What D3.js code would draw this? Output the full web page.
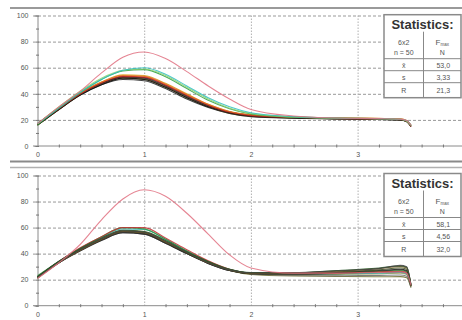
<!DOCTYPE html>
<html>
<head>
<meta charset="utf-8">
<script src="https://cdn.jsdelivr.net/npm/d3@7"></script>
<style>
  body { margin: 0; background: #fff; }
  svg { display: block; font-family: 'Liberation Sans', Arial, sans-serif; }
</style>
</head>
<body>
<div id="chart"></div>
<script>
// sample positions along the travel axis
const xs = [0, 0.2, 0.4, 0.6, 0.8, 1.0, 1.2, 1.4, 1.6, 1.8, 2.0, 2.4, 2.8, 3.2, 3.4, 3.46, 3.5];

const xTicks = [0, 1, 2, 3];
const xMinorTicks = [0.2, 0.4, 0.6, 0.8, 1.2, 1.4, 1.6, 1.8, 2.2, 2.4, 2.6, 2.8, 3.2, 3.4, 3.6, 3.8];
const yTicks = [0, 20, 40, 60, 80, 100];
const yMinorTicks = [10, 30, 50, 70, 90];

// upper panel curves
const topPink   = [17, 30, 42, 56, 68, 72, 67, 57, 46, 36, 28, 23, 21.5, 21, 20.6, 19.5, 16];
const topCyan   = [17, 29, 41, 51, 58, 60, 55, 46, 37, 30, 25.5, 22.5, 21.5, 21, 20.5, 19.5, 16];
const topGreen  = [16, 29, 41, 51, 57.5, 58.5, 53, 44, 35, 28.5, 24.5, 22, 21.3, 20.8, 20.3, 19, 15.5];
const topLime   = [17, 30, 42, 52, 58, 59, 54, 45, 36, 29, 25, 22.2, 21.4, 21, 20.6, 19.2, 16];
const topBlack1 = [16, 28, 39, 47, 52, 51, 45, 37, 30, 25.5, 23, 21.5, 21, 20.5, 20, 19, 15];
const topBlack2 = [17, 29, 40, 48, 53, 52, 46, 38, 31, 26, 23.5, 22, 21.2, 20.7, 20.3, 19.2, 15.5];
const topRed    = [17, 29, 40, 48.5, 53.5, 53, 47, 39, 31.5, 26, 23.5, 22, 21.2, 20.8, 20.4, 19, 15];
const topBrown  = [16, 28, 39.5, 48, 52.5, 51.5, 45.5, 37.5, 30.5, 25.5, 23, 21.7, 21, 20.6, 20.2, 19, 16];
const topOrange = [17, 29.5, 40.5, 49, 54, 53.5, 47.5, 39.5, 32, 26.5, 24, 22.3, 21.6, 21.2, 20.8, 19.5, 16];
const topDark   = [16.5, 28, 39, 47, 51, 50, 44, 36, 29.5, 25, 22.5, 21.3, 20.8, 20.3, 20, 18.5, 15];
const topMaroon = [17, 28.5, 40, 48, 53, 52.5, 46.5, 38.5, 31, 26, 23.5, 22, 21.3, 20.9, 20.5, 19, 15.5];
const topOlive  = [16, 28, 39, 47.5, 52, 51, 45, 37, 30, 25, 22.8, 21.5, 20.8, 20.4, 20, 18.8, 15];
const topYellow = [17, 29, 40.5, 49, 54.5, 54, 48, 40, 32, 26.5, 23.8, 22.2, 21.5, 21.1, 20.7, 19.3, 15.5];

// lower panel curves
const botPink      = [21, 33, 47, 66, 82, 89, 84, 71, 55, 39, 29, 25, 25, 25.5, 26, 25, 16];
const botBlack1    = [22, 33, 42, 50, 56, 55, 48, 40, 32.5, 27, 24.5, 24, 24.5, 25.5, 26, 25, 15];
const botBlack2    = [22, 34, 43, 51, 57, 56, 49, 41, 33.5, 27.5, 25, 24.5, 25.5, 27, 28, 27, 16];
const botGreen     = [23, 34, 44, 53, 60, 59, 51, 42, 34, 28, 25, 24.5, 25, 26, 27, 26, 15];
const botOlive     = [22, 33.5, 43, 51.5, 57.5, 56.5, 49, 40.5, 33, 27, 24, 22.8, 22.5, 22.2, 22.3, 21.5, 14];
const botBrown     = [21, 33, 42.5, 51, 57, 56, 49, 41, 33, 27.5, 25, 25, 26.5, 28.5, 30, 29, 16];
const botDarkGreen = [22, 34, 44, 52, 58, 57, 50, 41.5, 34, 28, 25.5, 25.5, 27, 29, 30.5, 29.5, 16];
const botCyan      = [22, 34, 44, 52.5, 59, 58.5, 51, 42, 34, 28, 25, 24.5, 24.5, 25, 25.5, 24.5, 15];
const botRed       = [22, 34, 44.5, 53, 60, 60, 52, 43, 34.5, 28, 25, 24.5, 25, 26, 26.5, 25.5, 15];
const botGray      = [21.5, 33, 43, 51, 56.5, 55.5, 48.5, 40, 32.5, 27, 24.5, 23.2, 23, 23.3, 23.6, 22.6, 14];
const botBlack3    = [22, 33.5, 43, 51, 57, 56, 49, 40.5, 33, 27.5, 25, 24.8, 26, 27.5, 29, 28, 15.5];
const botBlack4    = [22, 33, 42.5, 50.5, 56, 55, 48, 40, 32.5, 27, 24.6, 24.2, 25, 26.5, 27.5, 26.5, 15];
const botKhaki     = [22, 33.5, 43.5, 52, 58, 57, 50, 41, 33.5, 27.5, 24.8, 23.8, 24, 24.5, 25, 24, 14.5];
const botDark2     = [21.5, 33, 43, 51.5, 57.5, 56.5, 49.5, 41, 33, 27.5, 25.2, 25.2, 26.8, 28.5, 31, 30, 16];

// statistics tables
const topStats = { head: ['6x2', 'n = 50'], rows: [['x\u0304', '53,0'], ['s', '3,33'], ['R', '21,3']] };
const botStats = { head: ['6x2', 'n = 50'], rows: [['x\u0304', '58,1'], ['s', '4,56'], ['R', '32,0']] };

const topCurves = [
  [topOlive, '#6b6a2a'], [topDark, '#222'], [topBrown, '#8a4a20'], [topBlack1, '#111'],
  [topMaroon, '#902020'], [topYellow, '#d8a020'], [topBlack2, '#333'], [topRed, '#d02020'],
  [topOrange, '#e07020'], [topGreen, '#2aa040'], [topLime, '#90d070'], [topCyan, '#30c0c0'],
  [topPink, '#e07080']
];
const botCurves = [
  [botOlive, '#6b6a2a'], [botGray, '#666'], [botKhaki, '#9a9a50'], [botBlack1, '#111'],
  [botBlack4, '#333'], [botCyan, '#30b0b0'], [botGreen, '#2a9a40'], [botRed, '#c03030'],
  [botBlack2, '#222'], [botBlack3, '#3a4a20'], [botBrown, '#7a5a20'], [botDarkGreen, '#2a5a2a'],
  [botDark2, '#444'], [botPink, '#e07080']
];

const width = 462, height = 320;
const svg = d3.select('#chart').append('svg')
  .attr('width', width)
  .attr('height', height);

const x = d3.scaleLinear().domain([0, 4]).range([37.5, 464.3]);

// frame lines
svg.append('line').attr('x1', 10).attr('x2', width).attr('y1', 8).attr('y2', 8)
  .attr('stroke', '#9a9a9a').attr('stroke-width', 2);
svg.append('line').attr('x1', 10).attr('x2', width).attr('y1', 161.5).attr('y2', 161.5)
  .attr('stroke', '#8a8a8a').attr('stroke-width', 2);
svg.append('line').attr('x1', 10).attr('x2', width).attr('y1', 167.5).attr('y2', 167.5)
  .attr('stroke', '#b0b0b0').attr('stroke-width', 1.5);

function drawPanel(y0, y100, curves, stats, boxTop) {
  const y = d3.scaleLinear().domain([0, 100]).range([y0, y100]);
  const g = svg.append('g');

  // horizontal grid
  g.append('g')
    .attr('transform', `translate(33, 0)`)
    .call(d3.axisRight(y).tickValues(yTicks.slice(1)).tickSize(width - 33).tickFormat(''))
    .call(s => s.select('.domain').remove())
    .selectAll('line')
    .attr('stroke', '#999').attr('stroke-dasharray', '3,2');

  // vertical grid
  g.append('g')
    .attr('transform', `translate(0, ${y(100)})`)
    .call(d3.axisBottom(x).tickValues(xTicks.slice(1)).tickSize(y(0) - y(100)).tickFormat(''))
    .call(s => s.select('.domain').remove())
    .selectAll('line')
    .attr('stroke', '#b0b0b0').attr('stroke-dasharray', '1.5,1.5');

  // x axis
  const xa = g.append('g')
    .attr('transform', `translate(0, ${y(0)})`)
    .call(d3.axisBottom(x).tickValues(xTicks).tickSize(0).tickPadding(6).tickFormat(d3.format('d')));
  xa.select('.domain').remove();
  xa.selectAll('text').attr('fill', '#555').style('font-size', '7px');
  g.append('line').attr('x1', 33).attr('x2', width).attr('y1', y(0)).attr('y2', y(0))
    .attr('stroke', '#8a8a8a');
  g.append('g')
    .attr('transform', `translate(0, ${y(0)})`)
    .call(d3.axisBottom(x).tickValues(xMinorTicks).tickSize(3).tickFormat(''))
    .call(s => s.select('.domain').remove())
    .selectAll('line').attr('stroke', '#777').attr('transform', 'translate(0,-1.5)');

  // y axis
  const ya = g.append('g')
    .attr('transform', `translate(${x(0)}, 0)`)
    .call(d3.axisLeft(y).tickValues(yTicks).tickSize(3).tickPadding(6));
  ya.select('.domain').attr('stroke', '#8a8a8a');
  ya.selectAll('line').attr('stroke', '#777').attr('transform', 'translate(1.5,0)');
  ya.selectAll('text').attr('fill', '#555').style('font-size', '7px');
  g.append('g')
    .attr('transform', `translate(${x(0)}, 0)`)
    .call(d3.axisLeft(y).tickValues(yMinorTicks).tickSize(3).tickFormat(''))
    .call(s => s.select('.domain').remove())
    .selectAll('line').attr('stroke', '#777').attr('transform', 'translate(1.5,0)');

  // curves
  const line = d3.line()
    .x((d, i) => x(xs[i]))
    .y(d => y(d))
    .curve(d3.curveMonotoneX);
  g.append('g').selectAll('path')
    .data(curves)
    .join('path')
    .attr('d', d => line(d[0]))
    .attr('fill', 'none')
    .attr('stroke', d => d[1])
    .attr('stroke-width', 1.1)
    .attr('stroke-opacity', 0.85);

  // statistics box
  const bx = 384, bw = 77, cx = 423.5;
  const t = g.append('g').attr('transform', `translate(0, ${boxTop})`);
  t.append('rect').attr('x', bx).attr('y', 0).attr('width', bw).attr('height', 83)
    .attr('fill', '#fff').attr('stroke', '#8a8a8a').attr('stroke-width', 1.5);
  t.append('text').attr('x', bx + bw / 2).attr('y', 14.5).attr('text-anchor', 'middle')
    .style('font-size', '13px').style('font-weight', 'bold').attr('fill', '#333')
    .text('Statistics:');
  t.append('line').attr('x1', cx).attr('x2', cx).attr('y1', 17).attr('y2', 83).attr('stroke', '#888');
  [44, 56, 68].forEach(yy => {
    t.append('line').attr('x1', bx).attr('x2', bx + bw).attr('y1', yy).attr('y2', yy).attr('stroke', '#888');
  });
  const lx = (bx + cx) / 2, rx = (cx + bx + bw) / 2;
  t.append('text').attr('x', lx).attr('y', 30).attr('text-anchor', 'middle')
    .style('font-size', '7px').attr('fill', '#555').text(stats.head[0]);
  t.append('text').attr('x', lx).attr('y', 40).attr('text-anchor', 'middle')
    .style('font-size', '7px').attr('fill', '#555').text(stats.head[1]);
  const fm = t.append('text').attr('x', rx).attr('y', 30).attr('text-anchor', 'middle')
    .style('font-size', '8px').attr('fill', '#555');
  fm.append('tspan').text('F');
  fm.append('tspan').attr('dy', 1.5).style('font-size', '4.5px').text('max');
  t.append('text').attr('x', rx).attr('y', 40).attr('text-anchor', 'middle')
    .style('font-size', '7px').attr('fill', '#555').text('N');
  stats.rows.forEach((r, i) => {
    const yy = [53, 65, 78][i];
    t.append('text').attr('x', lx).attr('y', yy).attr('text-anchor', 'middle')
      .style('font-size', '7px').attr('fill', '#555').text(r[0]);
    t.append('text').attr('x', rx + 1).attr('y', yy).attr('text-anchor', 'middle')
      .style('font-size', '7px').attr('fill', '#555').text(r[1]);
  });
}

drawPanel(146, 15.5, topCurves, topStats, 14.7);
drawPanel(305.7, 175.5, botCurves, botStats, 173.5);
</script>
</body>
</html>
